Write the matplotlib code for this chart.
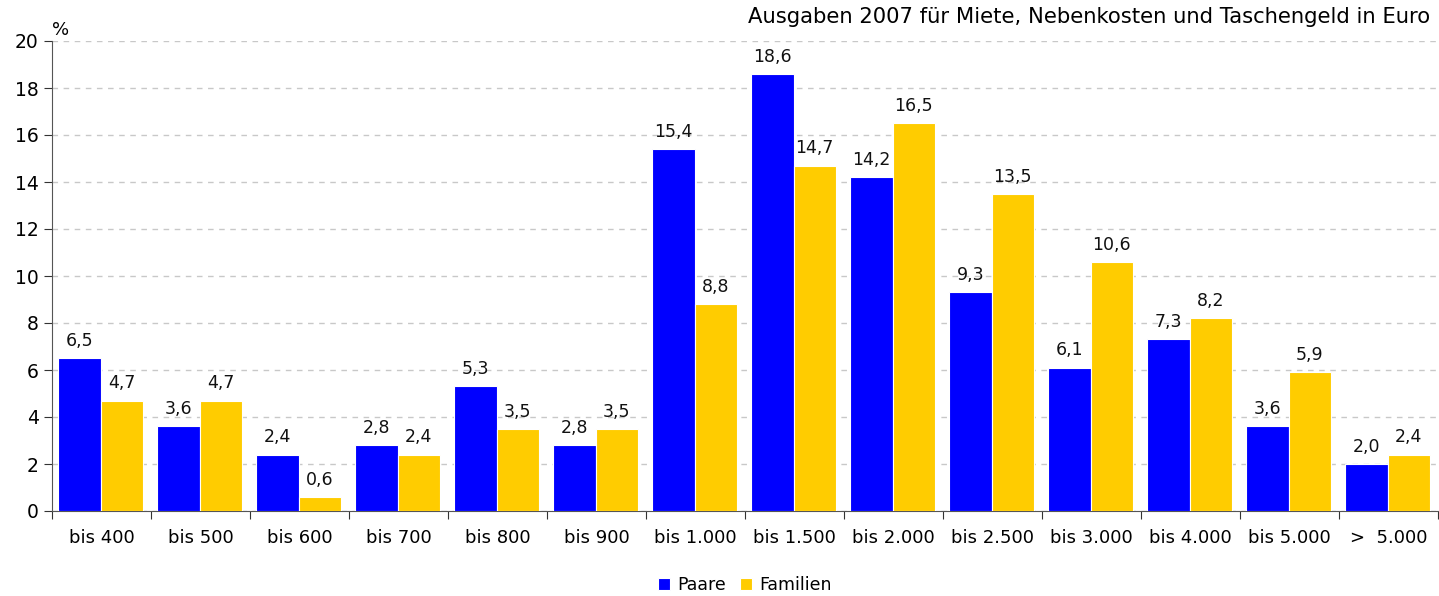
import numpy as np
import matplotlib.pyplot as plt

kategorien = ['bis 400', 'bis 500', 'bis 600', 'bis 700', 'bis 800', 'bis 900',
              'bis 1.000', 'bis 1.500', 'bis 2.000', 'bis 2.500', 'bis 3.000',
              'bis 4.000', 'bis 5.000', '>  5.000']
paare = [6.5, 3.6, 2.4, 2.8, 5.3, 2.8, 15.4, 18.6, 14.2, 9.3, 6.1, 7.3, 3.6, 2.0]
familien = [4.7, 4.7, 0.6, 2.4, 3.5, 3.5, 8.8, 14.7, 16.5, 13.5, 10.6, 8.2, 5.9, 2.4]

blau = '#0000FF'
gelb = '#FFCC00'

plt.rcParams['font.family'] = ['DejaVu Sans']

fig = plt.figure(figsize=(14.39, 5.96), dpi=100)
ax = fig.add_axes([52 / 1439, 85 / 596, 1386 / 1439, 470 / 596])

x = np.arange(len(kategorien))
breite = 0.43
b1 = ax.bar(x - breite / 2 - 0.01, paare, breite, color=blau, edgecolor='white',
            linewidth=0.8, label='Paare', zorder=3)
b2 = ax.bar(x + breite / 2 - 0.01, familien, breite, color=gelb, edgecolor='white',
            linewidth=0.8, label='Familien', zorder=3)

# Werte über den Balken
for rects, werte in ((b1, paare), (b2, familien)):
    for r, v in zip(rects, werte):
        ax.text(r.get_x() + r.get_width() / 2, v + 0.35, f'{v:.1f}'.replace('.', ','),
                ha='center', va='bottom', fontsize=12.5, color='#111111')

ax.set_xlim(-0.5, len(kategorien) - 0.5)
ax.set_ylim(0, 20)
ax.set_yticks(range(0, 21, 2))
ax.set_xticks(np.arange(-0.5, len(kategorien), 1))
ax.set_xticklabels([])
ax.set_xticks(x, minor=True)
ax.set_xticklabels(kategorien, minor=True)
ax.tick_params(axis='x', which='major', length=6, direction='out', color='#333333')
ax.tick_params(axis='x', which='minor', length=0, pad=13, labelsize=13)
ax.tick_params(axis='y', length=6, direction='out', color='#333333', labelsize=13.5)

ax.grid(axis='y', linestyle=(0, (4, 4)), color='#c8c8c8', linewidth=1, zorder=0)
ax.spines['top'].set_visible(False)
ax.spines['right'].set_visible(False)
ax.spines['left'].set_color('#555555')
ax.spines['bottom'].set_color('#555555')

ax.text(0, 1.005, '%', transform=ax.transAxes, fontsize=13, ha='left', va='bottom')
fig.text(1430 / 1439, 1 - 17 / 596, 'Ausgaben 2007 für Miete, Nebenkosten und Taschengeld in Euro',
         ha='right', va='center', fontsize=15.2)

fig.legend(loc='center', bbox_to_anchor=(745 / 1439, 1 - 585 / 596), ncol=2,
           frameon=False, fontsize=12.5, handlelength=0.7, handleheight=0.7,
           handletextpad=0.4, columnspacing=0.8)

fig.savefig('out.png', dpi=100)
